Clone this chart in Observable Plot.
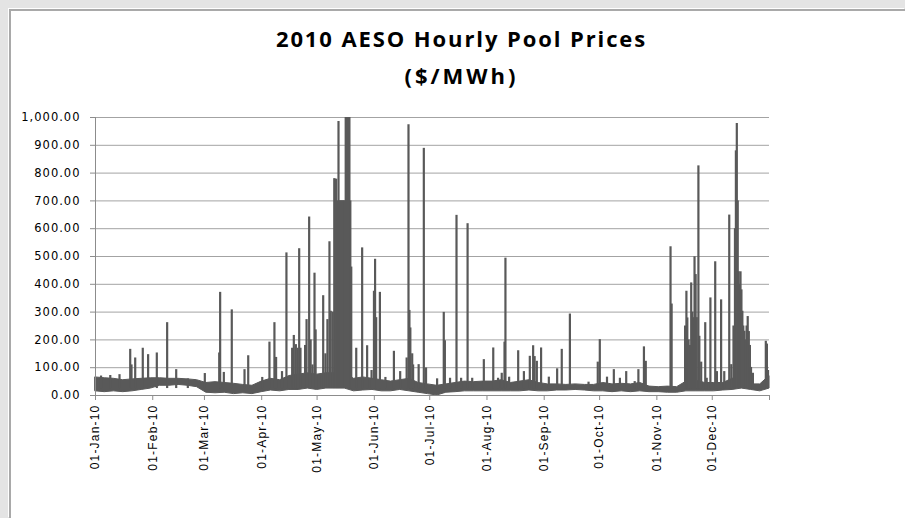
<!DOCTYPE html>
<html><head><meta charset="utf-8">
<script src="https://cdn.jsdelivr.net/npm/d3@7"></script>
<script src="https://cdn.jsdelivr.net/npm/@observablehq/plot@0.6"></script>
<style>
html,body{margin:0;padding:0;background:#e4e4e4;width:905px;height:518px;overflow:hidden;position:relative}
#panel{position:absolute;left:9px;top:9px;width:894px;height:507px;background:#fff;border-left:2px solid #a9a9a9;border-top:2px solid #a9a9a9;box-shadow:-1px -1px 0 #fff}
.title{position:absolute;left:9px;width:905px;text-align:center;font-family:"Open Sans",Lato,sans-serif;font-weight:bold;font-size:22px;color:#000;white-space:nowrap}
#chart{position:absolute;left:0;top:0}
</style></head>
<body>
<div id="panel"></div>
<div class="title" style="top:23px;letter-spacing:1.9px">2010 AESO Hourly Pool Prices</div>
<div class="title" style="top:60px;letter-spacing:3px">($/MWh)</div>
<div id="chart"></div>
<script>
// Tick values
const monthTicks = ["2010-01-01","2010-02-01","2010-03-01","2010-04-01","2010-05-01","2010-06-01","2010-07-01","2010-08-01","2010-09-01","2010-10-01","2010-11-01","2010-12-01","2011-01-01"];
const yTicks = [0,100,200,300,400,500,600,700,800,900,1000];

// Baseline band of hourly prices: day of year (0 = 01-Jan), low and high ($/MWh)
const bandDay = [0,5,10,15,20,25,30,35,40,45,50,55,60,65,70,75,80,85,90,95,100,105,110,115,120,125,130,135,140,145,150,155,160,165,170,175,180,185,190,195,200,205,210,215,220,225,230,235,240,245,250,255,260,265,270,275,280,285,290,295,300,305,310,315,320,325,330,335,340,345,350,355,360,365];
const bandLow = [15,12,15,12,15,20,25,35,35,38,35,30,10,8,10,5,8,5,12,18,15,20,20,25,20,25,25,25,15,18,20,15,15,20,15,10,5,0,10,12,15,15,15,15,15,15,15,18,15,15,18,18,20,18,15,15,12,15,12,15,12,12,10,10,15,15,15,15,18,20,25,20,15,25];
const bandHigh = [65,62,60,55,58,60,62,62,60,60,58,55,45,48,45,42,38,35,50,60,55,70,75,80,75,80,80,80,60,65,60,55,50,55,60,45,40,35,40,45,50,48,50,50,55,45,50,55,45,40,40,38,40,38,38,45,40,42,40,45,32,30,32,30,50,55,45,45,45,60,70,40,40,70];

// Price spikes: day of year and peak price ($/MWh)
const spikeDay = [3,8,13,18.8,19.5,21.5,25.6,28.5,33.2,38.8,43.7,50,59.2,67,67.5,69.5,73.8,80.7,82.7,90.3,
 94.2,96.9,97.8,101,103.4,106.5,107.4,108.5,109.5,110.3,111,113.5,114.3,115.7,116.5,117.5,118.6,119.2,121,123.3,124.5,125.6,126.7,127.4,128.5,
 129.3,129.8,130.3,130.8,131.3,131.6,132,132.5,133,133.5,134,134.5,135,135.5,136,136.5,137,137.5,138,138.5,
 141.2,144.4,147.1,149.5,150.8,151.4,152,154,157,161.6,165,168.5,169.5,170,170.5,171.5,172,175,177.8,179,
 185,188.6,189.2,192,195.5,198,201.5,204,210.3,215.4,218,220,221.5,222,224,228.9,232,235.2,237,237.8,239,241.3,245.5,250,252.5,256.9,267,272,273.1,
 277,280.7,284,287.4,292,294,297,298,311.4,312,
 319.3,320,320.5,321.2,322,322.6,323.2,324,324.4,325,325.6,326.5,327,328,330.2,331,333,335.6,336.5,338.8,340.5,343.2,344.3,
 345.5,346.3,346.8,347.3,347.8,348.3,348.8,349.3,349.8,350.3,350.8,351.4,352,352.6,353.2,353.8,354.4,355,356,363,363.6,364.2];
const spikeValue = [70,72,75,166,110,135,170,147,153,262,93,60,79,153,371,83,308,93,143,65,
 192,262,137,86,513,170,216,183,170,528,170,180,273,642,200,110,440,236,75,359,150,273,553,303,300,
 780,778,778,627,700,986,700,700,700,700,700,700,700,999.99,999.99,999.99,999.99,999.99,700,462,
 170,531,179,90,375,490,280,371,65,159,86,135,974,306,243,150,110,111,889,99,
 60,299,197,62,648,62,618,62,129,171,62,80,192,494,66,161,86,141,179,140,123,171,66,96,166,293,48,120,201,
 66,93,62,86,50,93,175,123,535,329,
 250,375,279,200,180,405,300,280,499,435,280,826,213,120,262,62,351,481,86,344,86,649,111,
 250,600,880,978,700,445,400,445,380,303,250,231,200,250,284,230,180,101,80,195,185,90];

const t0 = Date.UTC(2010,0,1);
const toDate = d => new Date(t0 + d*864e5);
const band = bandDay.map((d,i)=>({date: toDate(d), lo: bandLow[i], hi: bandHigh[i]}));
const spikes = spikeDay.map((d,i)=>({date: toDate(d), value: spikeValue[i], base: 25}));
const ticks = monthTicks.map(s => new Date(s + "T00:00:00Z"));
const fmtX = d3.utcFormat("%d-%b-%y");

const col = "#595959";
const chart = Plot.plot({
  width: 905, height: 518,
  marginLeft: 95, marginRight: 136, marginTop: 117, marginBottom: 123,
  style: {background: "transparent", color: "#000", overflow: "visible"},
  x: {type: "utc", domain: [ticks[0], ticks[12]]},
  y: {domain: [0, 1000], clamp: true},
  marks: [
    Plot.gridY(yTicks, {stroke: "#a3a3a3", strokeOpacity: 1, strokeWidth: 1}),
    Plot.areaY(band, {x: "date", y1: "lo", y2: "hi", fill: col, stroke: col, strokeWidth: 1}),
    Plot.ruleX(spikes, {x: "date", y1: "base", y2: "value", stroke: col, strokeWidth: 2.2}),
    Plot.ruleY([0], {stroke: "#8c8c8c"}),
    Plot.ruleX([ticks[0]], {stroke: "#8c8c8c"}),
    Plot.axisY({ticks: yTicks, tickFormat: d3.format(",.2f"), tickSize: 5, tickPadding: 10, stroke: "#8c8c8c",
      fontFamily: "DejaVu Sans", fontSize: 11.5, label: null}),
    Plot.axisX({ticks: ticks, tickFormat: (d,i) => i < 12 ? fmtX(d) : "", tickRotate: -90, tickSize: 5, tickPadding: 4,
      stroke: "#8c8c8c", fontFamily: "Liberation Sans", fontSize: 12, label: null})
  ]
});
document.getElementById("chart").appendChild(chart);
d3.select(chart).selectAll("g[aria-label='y-axis tick label']").style("letter-spacing", "1px");
d3.select(chart).selectAll("g[aria-label='x-axis tick label']").style("letter-spacing", "1.2px");
</script>
</body></html>
